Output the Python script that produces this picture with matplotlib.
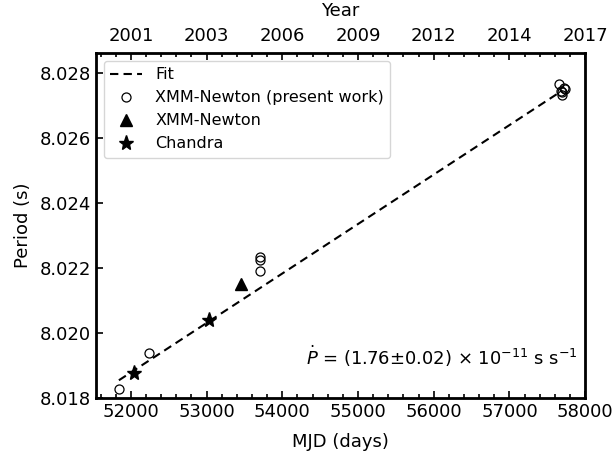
import numpy as np
import matplotlib
matplotlib.use('Agg')
import matplotlib.pyplot as plt
from matplotlib.ticker import MultipleLocator

# XMM-Newton (present work)
xmm_new_mjd = [51841, 52238, 53699, 53699, 53699, 57652, 57680, 57700, 57718, 57735, 57690]
xmm_new_p = [8.01827, 8.01938, 8.02234, 8.02224, 8.0219, 8.02764, 8.02742, 8.02732, 8.02752, 8.02750, 8.02740]
# XMM-Newton (earlier)
xmm_old_mjd = [53457]
xmm_old_p = [8.0215]
# Chandra
chandra_mjd = [52044, 53037]
chandra_p = [8.01875, 8.0204]

# fit: P = p0 + pdot*(t - t0)
fit_t0 = 51841
fit_p0 = 8.01854
fit_pdot = 1.76e-11 * 86400  # s per day
fit_range = [51841, 57700]

top_ticks = [52000, 53000, 54000, 55000, 56000, 57000, 58000]
top_labels = ['2001', '2003', '2006', '2009', '2012', '2014', '2017']

fig = plt.figure(figsize=(6.16, 4.61), dpi=100)
ax = fig.add_axes([0.156, 0.137, 0.794, 0.748])

t = np.array(fit_range)
ax.plot(t, fit_p0 + fit_pdot * (t - fit_t0), color='k', ls=(0, (4, 2.5)), lw=1.5, label='Fit')
ax.plot(xmm_new_mjd, xmm_new_p, 'o', mfc='none', mec='k', ms=6.5, mew=0.9,
        label='XMM-Newton (present work)')
ax.plot(xmm_old_mjd, xmm_old_p, '^', color='k', ms=8, label='XMM-Newton')
ax.plot(chandra_mjd, chandra_p, '*', color='k', ms=11, label='Chandra')

ax.set_xlim(51540, 58000)
ax.set_ylim(8.018, 8.0286)
ax.set_yticks([8.018, 8.020, 8.022, 8.024, 8.026, 8.028])
ax.set_xticks(top_ticks)
ax.xaxis.set_minor_locator(MultipleLocator(200))

ax.set_xlabel('MJD (days)', fontsize=13, labelpad=8.5)
ax.set_ylabel('Period (s)', fontsize=13, labelpad=6)
ax.tick_params(axis='both', which='major', direction='in', length=5, width=1.2, labelsize=13)
ax.tick_params(axis='x', which='minor', direction='in', length=3, width=1.2)
ax.tick_params(axis='y', right=False)
for s in ax.spines.values():
    s.set_linewidth(2)

ax2 = ax.twiny()
ax2.set_xlim(ax.get_xlim())
ax2.set_xticks(top_ticks)
ax2.set_xticklabels(top_labels)
ax2.xaxis.set_minor_locator(MultipleLocator(200))
ax2.tick_params(axis='x', which='major', direction='in', length=5, width=1.2,
                labelsize=13, pad=6)
ax2.tick_params(axis='x', which='minor', direction='in', length=3, width=1.2)
ax2.set_xlabel('Year', fontsize=13, labelpad=7.5)

ax.legend(loc='upper left', fontsize=11.5, handlelength=2.0, borderpad=0.4,
          labelspacing=0.5, bbox_to_anchor=(0.0, 1.0))

ax.text(0.985, 0.12, r'$\dot{P}$ = (1.76$\pm$0.02) $\times$ 10$^{-11}$ s s$^{-1}$',
        transform=ax.transAxes, ha='right', va='center', fontsize=13)

fig.savefig('out.png', dpi=100)
